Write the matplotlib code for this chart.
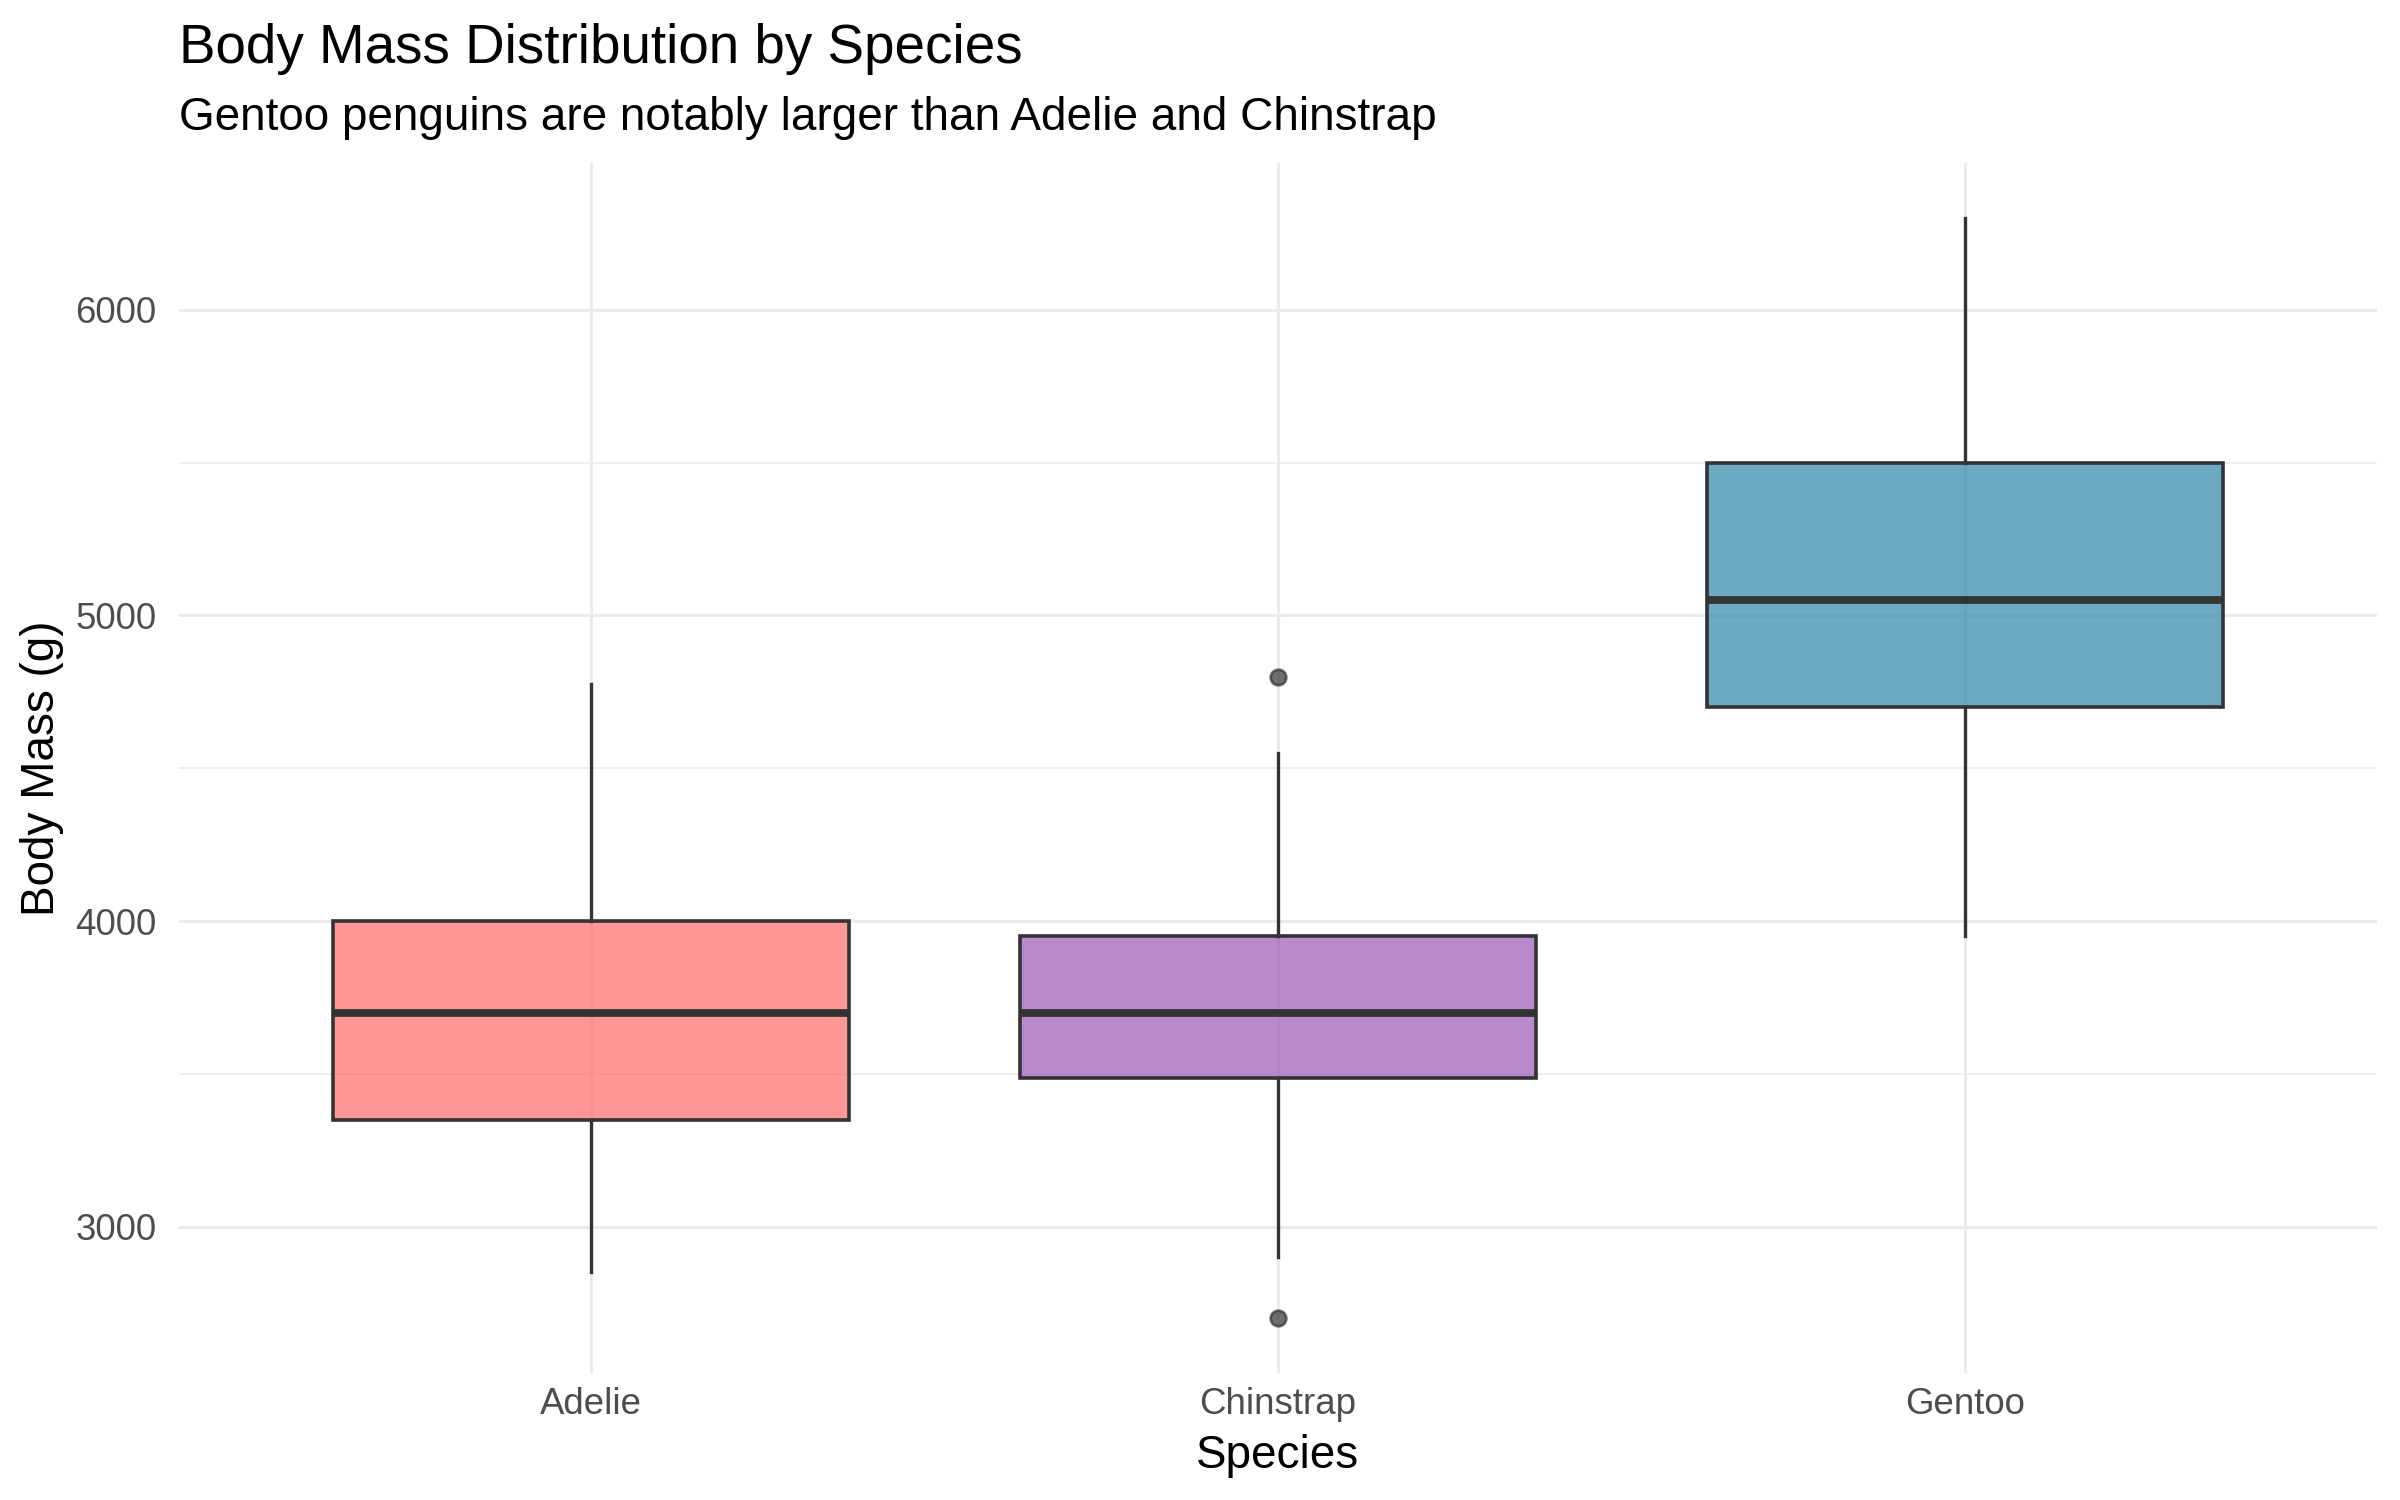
import matplotlib
matplotlib.use("Agg")
import matplotlib.pyplot as plt
from matplotlib.ticker import MultipleLocator

plt.rcParams["font.family"] = ["Liberation Sans", "DejaVu Sans"]

# 箱线图统计量
species = ["Adelie", "Chinstrap", "Gentoo"]
whisker_low = [2850, 2900, 3950]
q1 = [3350, 3487.5, 4700]
median = [3700, 3700, 5050]
q3 = [4000, 3950, 5500]
whisker_high = [4775, 4550, 6300]
outliers = [[], [4800, 2700], []]
colors = ["#FF6B6B", "#9B59B6", "#2E86AB"]

title = "Body Mass Distribution by Species"
subtitle = "Gentoo penguins are notably larger than Adelie and Chinstrap"


def main():
    fig = plt.figure(figsize=(12, 7.5), dpi=200)
    ax = fig.add_axes([0.0745, 0.0845, 0.916, 0.8067])

    stats = []
    for i, name in enumerate(species):
        stats.append(
            {
                "label": name,
                "whislo": whisker_low[i],
                "q1": q1[i],
                "med": median[i],
                "q3": q3[i],
                "whishi": whisker_high[i],
                "fliers": outliers[i],
            }
        )

    positions = list(range(1, len(species) + 1))
    bp = ax.bxp(
        stats,
        positions=positions,
        widths=0.75,
        patch_artist=True,
        showcaps=False,
        boxprops=dict(edgecolor="#333333", linewidth=1.3),
        medianprops=dict(color="#333333", linewidth=2.8, solid_capstyle="butt"),
        whiskerprops=dict(color="#333333", linewidth=1.2),
        flierprops=dict(
            marker="o",
            markerfacecolor="#333333",
            markeredgecolor="#333333",
            markersize=5.6,
            alpha=0.7,
        ),
        zorder=3,
    )
    for patch, c in zip(bp["boxes"], colors):
        patch.set_facecolor(matplotlib.colors.to_rgba(c, 0.7))
        patch.set_edgecolor("#333333")

    ax.set_xlim(0.4, 3.6)
    ax.set_ylim(2520, 6480)
    ax.set_xticks(positions)
    ax.set_xticklabels(species)
    ax.yaxis.set_major_locator(MultipleLocator(1000))
    ax.yaxis.set_minor_locator(MultipleLocator(500))

    # 网格
    ax.grid(which="major", color="#EBEBEB", linewidth=1.1, zorder=0)
    ax.grid(which="minor", axis="y", color="#EBEBEB", linewidth=0.55, zorder=0)
    ax.set_axisbelow(True)

    for s in ax.spines.values():
        s.set_visible(False)
    ax.tick_params(which="both", length=0)
    ax.tick_params(axis="x", labelsize=13.2, colors="#4D4D4D", pad=5)
    ax.tick_params(axis="y", labelsize=13.2, colors="#4D4D4D", pad=8)

    ax.set_xlabel("Species", fontsize=16.5, color="black")
    ax.xaxis.set_label_coords(0.5, -0.05)
    ax.set_ylabel("Body Mass (g)", fontsize=16.5, color="black")
    ax.yaxis.set_label_coords(-0.052, 0.5)

    fig.text(0.0745, 0.958, title, fontsize=19.7, va="baseline", ha="left")
    fig.text(0.0745, 0.9133, subtitle, fontsize=16.5, va="baseline", ha="left")

    fig.savefig("out.png", dpi=200, facecolor="white")


main()
